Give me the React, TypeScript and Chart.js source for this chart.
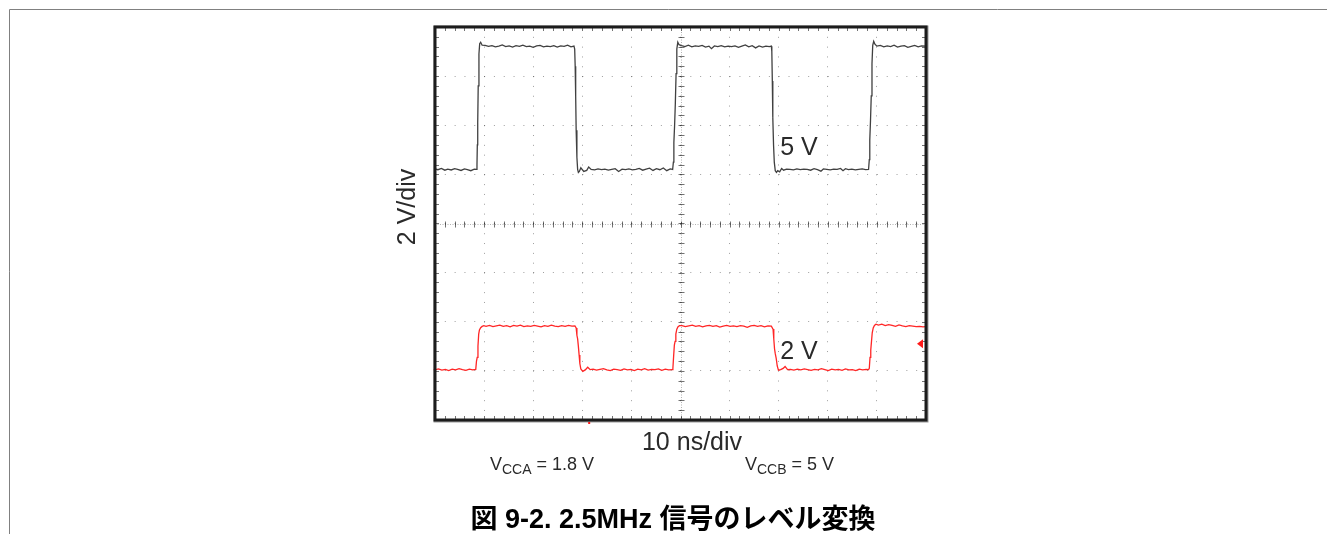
import React, { useEffect, useRef } from "react";
import { Chart, registerables } from "chart.js";

Chart.register(...registerables);

// Screen: 10 horizontal divisions of 10 ns, 8 vertical divisions of 2 V
const timeMin = 0;
const timeMax = 100;
const voltMin = -8;
const voltMax = 8;
const timePerDiv = 10;
const voltPerDiv = 2;

// Channel B output (5 V swing)
const blackTime = [
  0, 0.6, 1.3, 2.0, 2.6, 3.3, 4.0, 4.6, 5.3, 6.0, 6.6, 7.3, 8.0, 8.45,
  8.55, 8.62, 8.7, 8.8, 8.95, 9.1, 9.3, 9.6,
  10.2, 10.9, 11.6, 12.3, 13.0, 13.7, 14.4, 15.1, 15.8, 16.5, 17.2, 17.9, 18.6, 19.3, 20.0, 20.7, 21.4, 22.1, 22.8, 23.5, 24.2, 24.9, 25.6, 26.3, 27.0, 27.7, 28.3,
  28.45, 28.55, 28.65, 28.75, 28.9, 29.05, 29.2, 29.4, 29.7,
  30.3, 30.9, 31.3, 31.8, 32.5, 33.2, 33.9, 34.6, 35.3, 36.0, 36.7, 37.4, 38.1, 38.8, 39.5, 40.2, 40.9, 41.6, 42.3, 43.0, 43.7, 44.4, 45.1, 45.8, 46.5, 47.2, 47.9, 48.4,
  48.55, 48.65, 48.8, 48.95, 49.1, 49.25, 49.45, 49.7,
  50.2, 50.9, 51.6, 52.3, 53.0, 53.7, 54.4, 55.1, 55.8, 56.3, 56.9, 57.6, 58.3, 59.0, 59.7, 60.4, 61.1, 61.8, 62.5, 63.2, 63.9, 64.6, 65.3, 66.0, 66.7, 67.4, 68.1, 68.5,
  68.6, 68.7, 68.8, 68.95, 69.1, 69.3, 69.55, 69.8, 70.2,
  70.6, 71.0, 71.6, 72.3, 73.0, 73.7, 74.4, 75.1, 75.8, 76.5, 77.2, 77.9, 78.6, 79.1, 79.8, 80.5, 81.2, 81.9, 82.6, 83.1, 83.6, 84.2, 84.9, 85.6, 86.3, 87.0, 87.7, 88.3,
  88.45, 88.55, 88.7, 88.85, 89.0, 89.15, 89.35, 89.6,
  90.0, 90.7, 91.4, 92.1, 92.8, 93.5, 94.2, 94.9, 95.6, 96.3, 97.0, 97.7, 98.4, 99.1, 100,
];
const blackVolts = [
  2.22, 2.19, 2.24, 2.17, 2.21, 2.18, 2.23, 2.2, 2.16, 2.22, 2.19, 2.15, 2.21, 2.2,
  2.4, 3.2, 4.1, 5.6, 6.9, 7.32, 7.38, 7.26,
  7.25, 7.21, 7.24, 7.19, 7.22, 7.27, 7.2, 7.23, 7.18, 7.24, 7.21, 7.26, 7.2, 7.22, 7.17, 7.23, 7.25, 7.19, 7.22, 7.2, 7.24, 7.18, 7.23, 7.21, 7.26, 7.19, 7.22,
  7.1, 6.4, 5.2, 3.8, 2.7, 2.2, 2.08, 2.12, 2.27,
  2.12, 2.16, 2.3, 2.2, 2.18, 2.22, 2.19, 2.21, 2.17, 2.2, 2.23, 2.12, 2.21, 2.19, 2.22, 2.18, 2.2, 2.24, 2.17, 2.21, 2.25, 2.16, 2.23, 2.19, 2.26, 2.15, 2.22, 2.2,
  2.5, 3.3, 4.0, 4.9, 6.1, 7.1, 7.38, 7.28,
  7.24, 7.2, 7.26, 7.19, 7.23, 7.21, 7.25, 7.18, 7.22, 7.12, 7.23, 7.2, 7.24, 7.19, 7.22, 7.2, 7.23, 7.17, 7.22, 7.27, 7.19, 7.24, 7.15, 7.23, 7.18, 7.22, 7.2, 7.22,
  7.0, 5.8, 4.3, 3.2, 2.5, 2.15, 2.08, 2.15, 2.1,
  2.24, 2.17, 2.21, 2.2, 2.18, 2.22, 2.19, 2.21, 2.2, 2.17, 2.23, 2.19, 2.13, 2.22, 2.2, 2.18, 2.21, 2.2, 2.24, 2.15, 2.23, 2.19, 2.21, 2.18, 2.2, 2.22, 2.19, 2.2,
  2.6, 3.4, 4.2, 5.2, 6.5, 7.25, 7.42, 7.3,
  7.22, 7.25, 7.19, 7.23, 7.2, 7.26, 7.18, 7.22, 7.24, 7.17, 7.21, 7.25, 7.19, 7.23, 7.22,
];

// Channel A input (1.8 V swing)
const redTime = [
  -0.3, 0, 0.7, 1.4, 2.1, 2.8, 3.5, 4.2, 4.9, 5.6, 6.3, 7.0, 7.7, 8.3,
  8.45, 8.6, 8.75, 8.9, 9.05, 9.3, 9.6, 9.95,
  10.4, 11.1, 11.8, 12.5, 13.2, 13.9, 14.6, 15.3, 16.0, 16.7, 17.4, 18.1, 18.8, 19.5, 20.2, 20.9, 21.6, 22.3, 23.0, 23.7, 24.4, 25.1, 25.8, 26.5, 27.2, 27.9, 28.5,
  28.75, 28.9, 29.05, 29.2, 29.35, 29.5, 29.7, 30.1, 30.6, 31.1, 31.6,
  32.2, 32.9, 33.6, 34.3, 35.0, 35.7, 36.4, 37.1, 37.8, 38.5, 39.2, 39.9, 40.6, 41.3, 42.0, 42.7, 43.4, 44.1, 44.8, 45.5, 46.2, 46.9, 47.6, 48.3,
  48.45, 48.6, 48.75, 48.9, 49.05, 49.25, 49.5, 49.8,
  50.3, 51.0, 51.7, 52.4, 53.1, 53.8, 54.5, 55.2, 55.9, 56.6, 57.3, 58.0, 58.7, 59.4, 60.1, 60.8, 61.5, 62.2, 62.9, 63.6, 64.3, 65.0, 65.7, 66.4, 67.1, 67.8, 68.5,
  68.85, 69.0, 69.15, 69.3, 69.5, 69.7, 69.95, 70.4, 70.9, 71.3, 71.8,
  72.4, 73.1, 73.8, 74.5, 75.2, 75.9, 76.6, 77.3, 78.0, 78.7, 79.4, 80.1, 80.8, 81.5, 82.2, 82.9, 83.6, 84.3, 85.0, 85.7, 86.4, 87.1, 87.8, 88.3,
  88.45, 88.6, 88.75, 88.9, 89.05, 89.25, 89.5, 89.8,
  90.3, 91.0, 91.7, 92.4, 93.1, 93.8, 94.5, 95.2, 95.9, 96.6, 97.3, 98.0, 98.7, 99.4, 100,
];
const redVolts = [
  -5.95, -5.96, -5.92, -5.97, -5.94, -5.99, -5.93, -5.96, -5.91, -5.95, -5.98, -5.93, -5.96, -5.94,
  -5.6, -5.45, -5.0, -4.5, -4.33, -4.24, -4.19, -4.16,
  -4.19, -4.15, -4.2, -4.17, -4.14, -4.19, -4.16, -4.21, -4.15, -4.18, -4.14, -4.2, -4.17, -4.19, -4.15, -4.18, -4.21, -4.16, -4.19, -4.14, -4.18, -4.2, -4.16, -4.19, -4.15, -4.18, -4.17,
  -4.25, -4.55, -4.7, -5.0, -5.35, -5.7, -5.92, -6.02, -5.96, -5.85, -5.95,
  -5.93, -5.97, -5.94, -5.91, -5.96, -5.99, -5.93, -5.95, -5.98, -5.92, -5.96, -5.94, -5.99, -5.93, -5.96, -5.91, -5.97, -5.94, -5.95, -5.92, -5.98, -5.93, -5.96, -5.95,
  -5.9, -5.4, -4.95, -4.8, -4.5, -4.3, -4.2, -4.16,
  -4.16, -4.2, -4.17, -4.14, -4.19, -4.16, -4.21, -4.17, -4.15, -4.19, -4.16, -4.22, -4.18, -4.15, -4.19, -4.17, -4.2, -4.16, -4.18, -4.23, -4.17, -4.15, -4.19, -4.16, -4.21, -4.17, -4.18,
  -4.3, -4.7, -5.1, -5.3, -5.5, -5.8, -5.97, -5.95, -5.9, -5.82, -5.95,
  -5.94, -5.97, -5.93, -5.96, -5.92, -5.95, -5.98, -5.94, -5.96, -5.91, -5.95, -5.99, -5.93, -5.96, -5.94, -5.98, -5.92, -5.96, -5.95, -5.99, -5.93, -5.96, -5.94, -5.95,
  -5.9, -5.45, -5.15, -4.8, -4.45, -4.25, -4.15, -4.1,
  -4.14, -4.1, -4.16, -4.12, -4.15, -4.19, -4.13, -4.17, -4.2, -4.16, -4.18, -4.2, -4.19, -4.21, -4.2,
];

// Trace captions and where their baselines sit (time, volts)
const traceLabels = ["5 V", "2 V"];
const traceLabelTime = [70.5, 70.5];
const traceLabelVolts = [2.8, -5.52];

// Channel A reference marker level and trigger position
const redMarkerVolts = -4.9;
const triggerTime = 31.4;

const yAxisTitle = "2 V/div";
const xAxisTitle = "10 ns/div";
const supplyA = ["V", "CCA", " = 1.8 V"];
const supplyB = ["V", "CCB", " = 5 V"];
const caption = "図 9-2. 2.5MHz 信号のレベル変換";

const SANS = '"Liberation Sans", Arial, Helvetica, sans-serif';

const toPoints = (t: number[], v: number[]) => t.map((x, i) => ({ x, y: v[i] }));

const graticule = {
  id: "graticule",
  beforeDatasetsDraw(chart: any) {
    const { ctx, chartArea: a, scales } = chart;
    const xs = scales.x;
    const ys = scales.y;
    const cx = Math.round(xs.getPixelForValue((timeMin + timeMax) / 2)) + 0.5;
    const cy = Math.round(ys.getPixelForValue((voltMin + voltMax) / 2)) + 0.5;
    ctx.save();
    // fine dotted centre axes
    ctx.strokeStyle = "rgba(0,0,0,0.3)";
    ctx.lineWidth = 1;
    ctx.setLineDash([1, 1.5]);
    ctx.beginPath();
    ctx.moveTo(cx, a.top);
    ctx.lineTo(cx, a.bottom);
    ctx.moveTo(a.left, cy);
    ctx.lineTo(a.right, cy);
    ctx.stroke();
    ctx.setLineDash([]);
    // sub-division ticks on centre axes and along the frame
    ctx.strokeStyle = "rgba(0,0,0,0.55)";
    ctx.beginPath();
    for (let t = timeMin; t <= timeMax + 1e-6; t += timePerDiv / 5) {
      const px = Math.round(xs.getPixelForValue(t)) + 0.5;
      ctx.moveTo(px, cy - 3);
      ctx.lineTo(px, cy + 3);
      ctx.moveTo(px, a.top);
      ctx.lineTo(px, a.top + 4);
      ctx.moveTo(px, a.bottom - 4);
      ctx.lineTo(px, a.bottom);
    }
    for (let v = voltMin; v <= voltMax + 1e-6; v += voltPerDiv / 5) {
      const py = Math.round(ys.getPixelForValue(v)) + 0.5;
      ctx.moveTo(cx - 3, py);
      ctx.lineTo(cx + 3, py);
      ctx.moveTo(a.left, py);
      ctx.lineTo(a.left + 4, py);
      ctx.moveTo(a.right - 4, py);
      ctx.lineTo(a.right, py);
    }
    ctx.stroke();
    ctx.restore();
  },
  afterDatasetsDraw(chart: any) {
    const { ctx, chartArea: a, scales } = chart;
    ctx.save();
    // heavy screen frame with a soft grey edge
    ctx.strokeStyle = "#9a9a9a";
    ctx.lineWidth = 2;
    ctx.strokeRect(a.left - 0.5, a.top - 0.5, a.right - a.left + 2, a.bottom - a.top + 2);
    ctx.strokeStyle = "#1c1c1c";
    ctx.lineWidth = 3;
    ctx.strokeRect(a.left, a.top, a.right - a.left, a.bottom - a.top);
    // channel A level marker on the right edge
    const my = scales.y.getPixelForValue(redMarkerVolts);
    ctx.fillStyle = "#ff1a1a";
    ctx.beginPath();
    ctx.moveTo(a.right - 9, my);
    ctx.lineTo(a.right - 3, my - 4.5);
    ctx.lineTo(a.right - 3, my + 4.5);
    ctx.closePath();
    ctx.fill();
    // trigger position mark under the frame
    const tx = scales.x.getPixelForValue(triggerTime);
    ctx.fillRect(tx - 1, a.bottom + 2, 2, 2);
    ctx.restore();
  },
  afterDraw(chart: any) {
    const { ctx, scales } = chart;
    ctx.save();
    // page rule lines
    ctx.strokeStyle = "#808080";
    ctx.lineWidth = 1;
    ctx.beginPath();
    ctx.moveTo(9.5, chart.height);
    ctx.lineTo(9.5, 9.5);
    ctx.lineTo(chart.width, 9.5);
    ctx.stroke();

    ctx.fillStyle = "#2a2a2a";
    ctx.textBaseline = "alphabetic";
    // trace captions
    ctx.font = `25px ${SANS}`;
    ctx.textAlign = "left";
    traceLabels.forEach((s, i) => {
      ctx.fillText(s, scales.x.getPixelForValue(traceLabelTime[i]) - 1, scales.y.getPixelForValue(traceLabelVolts[i]));
    });
    // axis captions
    ctx.textAlign = "center";
    ctx.fillText(xAxisTitle, 692, 450);
    ctx.save();
    ctx.translate(415, 207);
    ctx.rotate(-Math.PI / 2);
    ctx.fillText(yAxisTitle, 0, 0);
    ctx.restore();
    // supply conditions with subscripts
    const drawSupply = (parts: string[], x0: number, y0: number) => {
      ctx.textAlign = "left";
      let x = x0;
      ctx.font = `18px ${SANS}`;
      ctx.fillText(parts[0], x, y0);
      x += ctx.measureText(parts[0]).width;
      ctx.font = `14px ${SANS}`;
      ctx.fillText(parts[1], x, y0 + 4);
      x += ctx.measureText(parts[1]).width;
      ctx.font = `18px ${SANS}`;
      ctx.fillText(parts[2], x, y0);
    };
    drawSupply(supplyA, 490, 470);
    drawSupply(supplyB, 745, 470);
    // figure caption
    ctx.fillStyle = "#000";
    ctx.textAlign = "center";
    ctx.font = `bold 27px "Liberation Sans", "Noto Sans CJK JP", sans-serif`;
    ctx.fillText(caption, 673, 528);
    ctx.restore();
  },
};

export default function App() {
  const canvasRef = useRef<HTMLCanvasElement | null>(null);

  useEffect(() => {
    const canvas = canvasRef.current;
    if (!canvas) return;
    const dotted = [1, 8.82];
    const chart = new Chart(canvas, {
      type: "line",
      data: {
        datasets: [
          {
            label: "B",
            data: toPoints(blackTime, blackVolts),
            borderColor: "#404040",
            borderWidth: 1.3,
            pointRadius: 0,
            tension: 0,
          },
          {
            label: "A",
            data: toPoints(redTime, redVolts),
            borderColor: "#ff2626",
            borderWidth: 1.3,
            pointRadius: 0,
            tension: 0,
            clip: { left: 4, right: 0, top: 0, bottom: 0 },
          },
        ],
      },
      options: {
        animation: false,
        responsive: true,
        maintainAspectRatio: false,
        parsing: true,
        layout: { padding: { left: 435, right: 401, top: 27, bottom: 114 } },
        plugins: { legend: { display: false }, tooltip: { enabled: false }, title: { display: false } },
        scales: {
          x: {
            type: "linear",
            min: timeMin,
            max: timeMax,
            ticks: { display: false, stepSize: timePerDiv },
            grid: { color: "rgba(0,0,0,0.38)", lineWidth: 1, drawTicks: false },
            border: { display: false, dash: dotted },
          },
          y: {
            type: "linear",
            min: voltMin,
            max: voltMax,
            ticks: { display: false, stepSize: voltPerDiv },
            grid: { color: "rgba(0,0,0,0.38)", lineWidth: 1, drawTicks: false },
            border: { display: false, dash: dotted },
          },
        },
      },
      plugins: [graticule],
    });
    return () => chart.destroy();
  }, []);

  return (
    <div style={{ position: "absolute", left: 0, top: 0, width: 1327, height: 534, background: "#fff" }}>
      <canvas ref={canvasRef} />
    </div>
  );
}
